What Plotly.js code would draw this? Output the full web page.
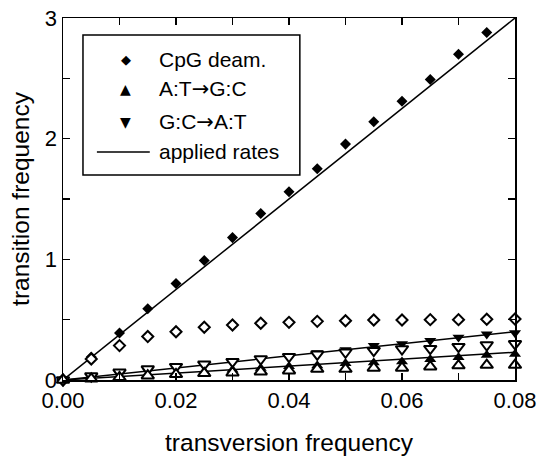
<!DOCTYPE html>
<html><head><meta charset="utf-8">
<script src="https://cdn.plot.ly/plotly-3.0.1.min.js"></script>
<style>html,body{margin:0;padding:0;background:#fff}</style>
</head><body><div id="chart" style="width:546px;height:457px"></div>
<script>
// transversion frequency
const xVals = [0,0.005,0.01,0.015,0.02,0.025,0.03,0.035,0.04,0.045,0.05,0.055,0.06,0.065,0.07,0.075,0.08];
// CpG deamination: filled (corrected) and open (raw)
const cpgFilled = [0,0.19,0.39,0.59,0.80,0.99,1.18,1.38,1.56,1.75,1.955,2.14,2.31,2.49,2.70,2.88,null];
const cpgOpen   = [0,0.174,0.285,0.36,0.40,0.437,0.456,0.47,0.478,0.486,0.491,0.497,0.497,0.50,0.50,0.503,0.505];
// A:T -> G:C
const atgcFilled = [0,0.014,0.028,0.042,0.056,0.07,0.084,0.098,0.112,0.12,0.138,0.143,0.152,0.171,0.188,0.207,0.215];
const atgcOpen   = [0,0.010,0.022,0.036,0.047,0.055,0.060,0.069,0.077,0.091,0.091,0.10,0.10,0.11,0.12,0.124,0.124];
// G:C -> A:T
const gcatFilled = [0,0.025,0.05,0.075,0.10,0.125,0.15,0.175,0.20,0.225,0.25,0.284,0.30,0.326,0.354,0.38,0.39];
const gcatOpen   = [0,0.033,0.064,0.091,0.11,0.13,0.152,0.174,0.193,0.213,0.23,0.243,0.257,0.26,0.276,0.29,0.30];
// applied rates (lines)
const lineX = [0,0.08];
const cpgLine  = [0,3.0];
const atgcLine = [0,0.23];
const gcatLine = [0,0.40];

const ARROW = '<span style="font-family:\'DejaVu Sans\'">\u2192</span>';
const legendNames = ['CpG deam.','A:T'+ARROW+'G:C','G:C'+ARROW+'A:T','applied rates'];
const legendSymbols = ['\u25C6','\u25B2','\u25BC'];

const black = '#000';
const lineStyle = {color: black, width: 1.5};
const traces = [
  {x: lineX, y: cpgLine, mode:'lines', line: lineStyle},
  {x: lineX, y: atgcLine, mode:'lines', line: lineStyle},
  {x: lineX, y: gcatLine, mode:'lines', line: lineStyle},
  {x: xVals, y: cpgFilled, mode:'markers', name: 'CpG deam.',
   marker:{symbol:'diamond', size:8.5, color:black, line:{width:0}}, cliponaxis:false},
  {x: xVals, y: gcatFilled, mode:'markers', name: 'G:C\u2192A:T',
   marker:{symbol:'triangle-down', size:10.5, color:black, line:{width:0}}, cliponaxis:false},
  {x: xVals, y: atgcFilled, mode:'markers', name: 'A:T\u2192G:C',
   marker:{symbol:'triangle-up', size:10.5, color:black, line:{width:0}}, cliponaxis:false},
  {x: xVals, y: cpgOpen, mode:'markers',
   marker:{symbol:'diamond', size:8.5, color:'#fff', line:{width:2, color:black}}, cliponaxis:false},
  {x: xVals, y: gcatOpen, mode:'markers',
   marker:{symbol:'triangle-down', size:11, color:'#fff', line:{width:2, color:black}}, cliponaxis:false},
  {x: xVals, y: atgcOpen, mode:'markers',
   marker:{symbol:'triangle-up', size:11, color:'#fff', line:{width:2, color:black}}, cliponaxis:false}
];

const fam = '"Liberation Sans", Arial, sans-serif';
const F = (s) => ({family: fam, size: s, color: black});

// legend (drawn with shapes and annotations, paper coordinates)
const rowY = [0.884, 0.804, 0.713, 0.630];
const annotations = [];
legendNames.forEach((t, i) => {
  annotations.push({xref:'paper', yref:'paper', x:0.208, y:rowY[i], xanchor:'left', yanchor:'middle',
    text:t, showarrow:false, font:F(21)});
});
legendSymbols.forEach((s, i) => {
  annotations.push({xref:'paper', yref:'paper', x:0.139, y:rowY[i], xanchor:'center', yanchor:'middle',
    text:s, showarrow:false, font:{family:'"DejaVu Sans", sans-serif', size: i === 0 ? 13 : 14, color: black}});
});
const shapes = [
  {type:'rect', xref:'paper', yref:'paper', x0:0.0442, x1:0.524, y0:0.566, y1:0.953,
   line:{color:black, width:1.5}, fillcolor:'rgba(0,0,0,0)', layer:'above'},
  {type:'line', xref:'paper', yref:'paper', x0:0.075, x1:0.192, y0:rowY[3], y1:rowY[3],
   line:{color:black, width:1.5}}
];

const layout = {
  width:546, height:457,
  margin:{l:63, r:31, t:18, b:77},
  paper_bgcolor:'#fff', plot_bgcolor:'#fff',
  font: F(22),
  showlegend:false,
  annotations: annotations,
  shapes: shapes,
  xaxis:{range:[0,0.08], dtick:0.02, tickformat:'.2f', ticks:'inside', ticklen:7, tickwidth:1.5, tickcolor:black,
    showline:true, linecolor:black, linewidth:1.5, mirror:'ticks', showgrid:false, zeroline:false,
    minor:{dtick:0.01, ticks:'inside', ticklen:7, tickwidth:1.5, tickcolor:black, showgrid:false},
    tickfont:F(22),
    title:{text:'transversion frequency', font:F(24.5), standoff:22}},
  yaxis:{range:[0,3], dtick:1, ticks:'inside', ticklen:7, tickwidth:1.5, tickcolor:black,
    showline:true, linecolor:black, linewidth:1.5, mirror:'ticks', showgrid:false, zeroline:false,
    minor:{dtick:0.5, ticks:'inside', ticklen:7, tickwidth:1.5, tickcolor:black, showgrid:false},
    tickfont:F(22),
    title:{text:'transition frequency', font:F(24.5), standoff:8}}
};
Plotly.newPlot('chart', traces, layout, {displayModeBar:false, staticPlot:true});
</script></body></html>
